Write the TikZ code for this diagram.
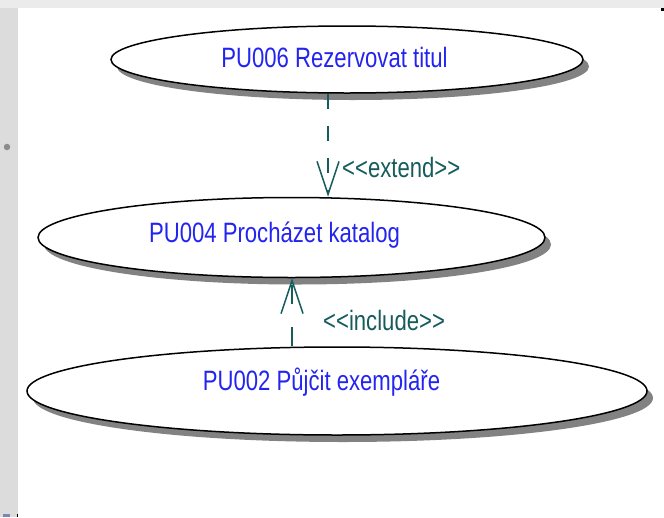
\documentclass[tikz,border=0pt]{standalone}
\usepackage{fontspec}
\setmainfont{Liberation Sans}[Ligatures=TeXOff]
\usetikzlibrary{shapes.geometric,shadows,arrows.meta}
\definecolor{uctext}{HTML}{2424F0}
\definecolor{rel}{HTML}{165C5C}
\definecolor{shadowgray}{HTML}{828282}
\definecolor{bandtop}{HTML}{EBEBEB}
\definecolor{bandleft}{HTML}{DCDCDC}
\definecolor{markblue}{HTML}{7A86B8}
\definecolor{bulletgray}{HTML}{8C8C8C}
\begin{document}
\begin{tikzpicture}[x=1pt,y=-1pt,
  usecase/.style={ellipse, draw=black, line width=1.5pt, fill=white, inner sep=0pt,
    drop shadow={shadow xshift=6pt, shadow yshift=-7pt, fill=shadowgray, opacity=1}},
  uctxt/.style={anchor=base, inner sep=0pt, text=uctext, font=\fontsize{28}{30}\selectfont},
  reltxt/.style={anchor=base west, inner sep=0pt, text=rel, font=\fontsize{28}{30}\selectfont},
  relline/.style={draw=rel, line width=1.5pt, -{Straight Barb[length=33pt,width=22pt]}}]
\useasboundingbox (0,0) rectangle (664,517);
\fill[bandtop] (0,0) rectangle (664,8);
\fill[bandleft] (0,8) rectangle (18,517);
\node[circle, fill=bulletgray, inner sep=0pt, minimum size=6.5pt] (bullet) at (7,147) {};
\fill[black] (661,8) rectangle (664,11);
\fill[markblue] (3,514) rectangle (10,517);
\fill[black] (17,514) rectangle (18,517);

\node[usecase, minimum width=472pt, minimum height=67pt] (e1) at (347,59.5) {};
\node[usecase, minimum width=507pt, minimum height=80pt] (e2) at (291.5,237.5) {};
\node[usecase, minimum width=620pt, minimum height=88pt] (e3) at (337,391) {};

\node[uctxt] (t1) at (334.5,67) {\scalebox{0.79}[1]{PU006 Rezervovat titul}};
\node[uctxt] (t2) at (274.5,242) {\scalebox{0.79}[1]{PU004 Procházet katalog}};
\node[uctxt] (t3) at (321.5,390) {\scalebox{0.79}[1]{PU002 Půjčit exempláře}};

\coordinate (xe) at (328,0);
\coordinate (xi) at (292,0);
\draw[relline, dash pattern=on 15pt off 17pt] (e1.south -| xe) -- (e2.north -| xe);
\draw[relline, dash pattern=on 19pt off 23pt] (e3.north -| xi) -- (e2.south -| xi);

\node[reltxt] (lx) at (342,177) {\scalebox{0.79}[1]{<<extend>>}};
\node[reltxt] (li) at (323,330) {\scalebox{0.79}[1]{<<include>>}};
\end{tikzpicture}
\end{document}
